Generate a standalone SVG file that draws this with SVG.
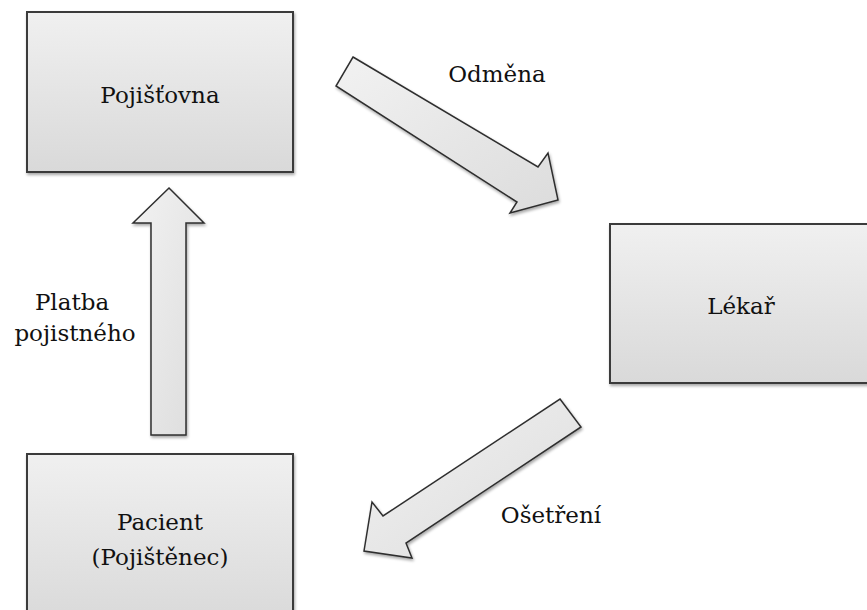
<svg xmlns="http://www.w3.org/2000/svg" width="867" height="610" viewBox="0 0 867 610">
<defs>
<linearGradient id="boxg" x1="0" y1="0" x2="0" y2="1">
<stop offset="0" stop-color="#f0f0f0"/>
<stop offset="1" stop-color="#d9d9d9"/>
</linearGradient>
<linearGradient id="arrg" x1="0" y1="0" x2="1" y2="1">
<stop offset="0" stop-color="#f2f2f2"/>
<stop offset="1" stop-color="#dcdcdc"/>
</linearGradient>
<filter id="sh" x="-10%" y="-10%" width="120%" height="120%">
<feGaussianBlur in="SourceAlpha" stdDeviation="1.5"/>
<feOffset dx="1" dy="2" result="b"/>
<feComponentTransfer><feFuncA type="linear" slope="0.35"/></feComponentTransfer>
<feMerge><feMergeNode/><feMergeNode in="SourceGraphic"/></feMerge>
</filter>
</defs>
<style>
.box{fill:url(#boxg);stroke:#3a3a3a;stroke-width:2;filter:url(#sh)}
.arr{fill:url(#arrg);stroke:#2f2f2f;stroke-width:1.5;stroke-linejoin:miter;filter:url(#sh)}
text{font-family:"DejaVu Serif","Liberation Serif",serif;font-size:23px;fill:#111;text-anchor:middle}
</style>
<g id="pojistovna">
<rect class="box" x="27" y="12" width="266" height="160"/>
<text x="160" y="103">Pojišťovna</text>
</g>
<g id="lekar">
<rect class="box" x="610" y="224" width="270" height="159"/>
<text x="741" y="314">Lékař</text>
</g>
<g id="pacient">
<rect class="box" x="27" y="454" width="266" height="170"/>
<text x="160" y="530">Pacient</text>
<text x="160" y="565">(Pojištěnec)</text>
</g>
<g id="connectors">
<path class="arr" d="M151,435 L151,223 L133,223 L169,188 L204,223 L186,223 L186,435 Z"/>
<path class="arr" d="M353,57 L538,167 L548,153 L558,200 L510,213 L517,202 L336,86 Z"/>
<path class="arr" d="M560,399 L581,427 L406,543 L412,558 L364,551 L372,502 L383,516 Z"/>
<text x="497" y="82">Odměna</text>
<text x="551" y="523">Ošetření</text>
<text x="72" y="310">Platba</text>
<text x="75" y="341">pojistného</text>
</g>
</svg>
